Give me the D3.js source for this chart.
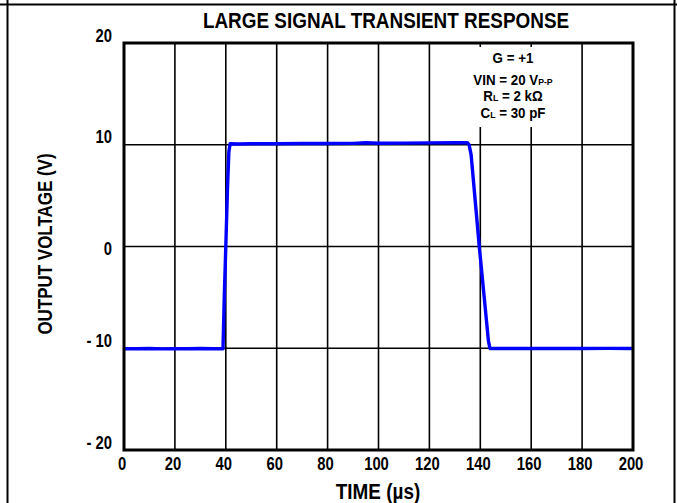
<!DOCTYPE html>
<html><head><meta charset="utf-8">
<script src="https://cdn.jsdelivr.net/npm/d3@7"></script>
<style>
body{margin:0;background:#fff}
svg{display:block}
text{font-family:"Liberation Sans Narrow","Arial Narrow","Liberation Sans",Arial,sans-serif;font-weight:bold;fill:#000}
</style>
</head><body>
<svg id="chart" width="677" height="503"></svg>
<script>
// ---- data ----
const xTicks = [0, 20, 40, 60, 80, 100, 120, 140, 160, 180, 200];
const yTicks = [-20, -10, 0, 10, 20];
const timeUs = [0.4, 5, 10, 15, 20, 25, 30, 35, 38.9, 39.4, 40.0, 40.7, 41.2, 41.7,
  45, 50, 60, 70, 80, 90, 95, 100, 110, 120, 130, 134.9, 135.6, 136.4, 139.6, 143.2, 143.8,
  150, 160, 170, 180, 190, 199.8];
const outputV = [-10.05, -10.05, -10.03, -10.06, -10.04, -10.05, -10.03, -10.05, -10.05, -5, 0, 6, 9.3, 10.1,
  10.08, 10.1, 10.1, 10.12, 10.12, 10.14, 10.2, 10.15, 10.16, 10.18, 10.2, 10.2, 10.0, 9.0, 0, -9.3, -10.02,
  -10.03, -10.02, -10.02, -10.03, -10.01, -10.02];
const titleText = "LARGE SIGNAL TRANSIENT RESPONSE";
const xTitle = "TIME (µs)";
const yTitle = "OUTPUT VOLTAGE (V)";
const legendLines = [
  [["G = +1", 0]],
  [["VIN = 20 V", 0], ["P-P", 1]],
  [["R", 0], ["L", 1], [" = 2 kΩ", 0]],
  [["C", 0], ["L", 1], [" = 30 pF", 0]]
];

// ---- drawing ----
const svg = d3.select("#chart");
const W = 677, H = 503;
const m = {left: 124, top: 43, right: 633, bottom: 450};
const x = d3.scaleLinear().domain([0, 200]).range([m.left, m.right]);
const y = d3.scaleLinear().domain([-20, 20]).range([m.bottom, m.top]);

// condensed text helper (narrow bold face look)
function narrowText(parent, px, py, sx, rot) {
  return parent.append("text")
    .attr("transform", `translate(${px},${py})` + (rot ? ` rotate(${rot})` : "") + ` scale(${sx},1)`);
}

// outer frame (table cell borders)
svg.append("line").attr("x1", 0).attr("x2", W).attr("y1", 4.5).attr("y2", 4.5).attr("stroke", "#000").attr("stroke-width", 2);
svg.append("line").attr("x1", 7.5).attr("x2", 7.5).attr("y1", 0).attr("y2", H).attr("stroke", "#000").attr("stroke-width", 2);
svg.append("line").attr("x1", 674.5).attr("x2", 674.5).attr("y1", 0).attr("y2", H).attr("stroke", "#000").attr("stroke-width", 2);

// grid
const grid = svg.append("g").attr("stroke", "#000").attr("stroke-width", 1.6);
grid.selectAll("line.v").data(xTicks.slice(1, -1)).join("line").attr("class", "v")
  .attr("x1", d => x(d)).attr("x2", d => x(d)).attr("y1", m.top).attr("y2", m.bottom);
grid.selectAll("line.h").data(yTicks.slice(1, -1)).join("line").attr("class", "h")
  .attr("x1", m.left).attr("x2", m.right).attr("y1", d => y(d)).attr("y2", d => y(d));

// legend box (white background over grid)
svg.append("rect").attr("x", 470).attr("y", 47).attr("width", 96).attr("height", 80).attr("fill", "#fff");
const lg = svg.append("g");
const lgBase = [63, 85, 101, 117.5];
legendLines.forEach((parts, i) => {
  const t = narrowText(lg, 513, lgBase[i], 0.92).attr("text-anchor", "middle").attr("font-size", 14.5);
  parts.forEach(([s, sub]) => t.append("tspan").text(s).attr("font-size", sub ? 9.5 : 14.5));
});

// waveform
const pts = timeUs.map((t, i) => [t, outputV[i]]);
svg.append("path").datum(pts)
  .attr("fill", "none").attr("stroke", "#0000ff").attr("stroke-width", 3.4)
  .attr("stroke-linejoin", "round").attr("stroke-linecap", "round")
  .attr("d", d3.line().x(d => x(d[0])).y(d => y(d[1])));

// plot border
svg.append("rect").attr("x", m.left).attr("y", m.top).attr("width", m.right - m.left).attr("height", m.bottom - m.top)
  .attr("fill", "none").attr("stroke", "#000").attr("stroke-width", 3);

// x tick labels
const gx = svg.append("g");
xTicks.forEach(d => {
  narrowText(gx, x(d) - 2, 470, 0.8).attr("text-anchor", "middle").attr("font-size", 18.5).text(d);
});

// y tick labels
const gy = svg.append("g");
yTicks.forEach(d => {
  narrowText(gy, 112, d === 0 ? y(d) + 8.5 : y(d) - 1.5, 0.8).attr("text-anchor", "end").attr("font-size", 18.5)
    .text(d < 0 ? "- " + Math.abs(d) : d);
});

// titles
narrowText(svg, 386, 28, 0.86).attr("text-anchor", "middle").attr("font-size", 22).text(titleText);
narrowText(svg, 378, 499, 0.88).attr("text-anchor", "middle").attr("font-size", 21.5).text(xTitle);
narrowText(svg, 52, 244, 0.87, -90).attr("text-anchor", "middle").attr("font-size", 19.5).text(yTitle);
</script>
</body></html>
